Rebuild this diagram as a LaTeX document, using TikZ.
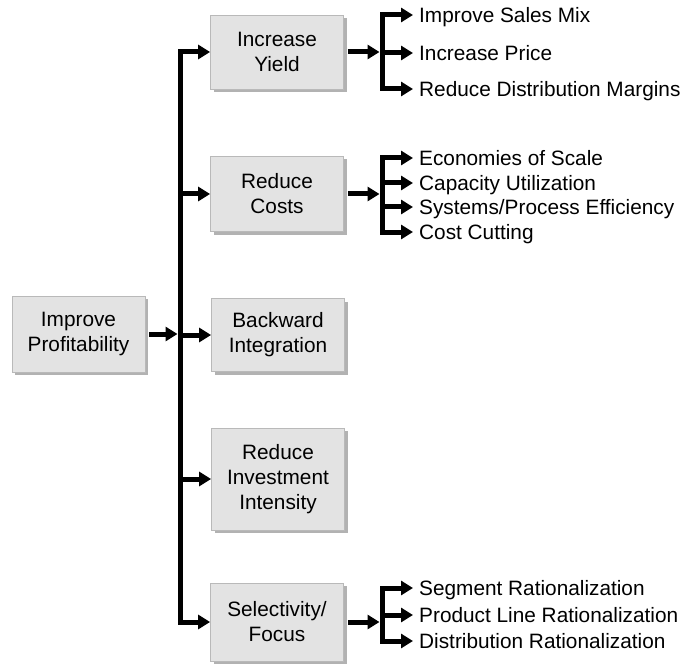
\documentclass[tikz,border=0pt]{standalone}
\usepackage{fontspec}
\setmainfont{Liberation Sans}
\usetikzlibrary{arrows.meta,shadows}

\begin{document}
\begin{tikzpicture}[x=1pt,y=-1pt,
  box/.style={draw=gray!55, fill=gray!22, line width=0.8pt,
    minimum width=133pt, align=center, inner sep=0pt,
    font=\fontsize{20.8}{25}\selectfont,
    drop shadow={shadow xshift=3pt, shadow yshift=-3pt, fill=gray!60, opacity=1}},
  item/.style={anchor=west, inner sep=0pt, text height=14.8pt, text depth=0pt,
    font=\fontsize{20.8}{25}\selectfont},
  arr/.style={line width=5pt, -{Triangle[length=12pt,width=14pt]}},
  bar/.style={line width=5pt, line cap=rect},
]
\useasboundingbox (0,0) rectangle (685,671);

% root and first-level boxes
\node[box, minimum height=76pt] (ip) at (78.5,334) {Improve\\Profitability};
\node[box, minimum height=74pt] (iy) at (277,52) {Increase\\Yield};
\node[box, minimum height=75pt] (rc) at (277,194) {Reduce\\Costs};
\node[box, minimum height=73pt] (bi) at (278,335) {Backward\\Integration};
\node[box, minimum height=102pt] (ri) at (278,479) {Reduce\\Investment\\Intensity};
\node[box, minimum height=78pt] (sf) at (277,622) {Selectivity/\\Focus};

% trunk
\coordinate (t) at (180,334);
\draw[bar] (t |- iy) -- (t |- sf);
\draw[arr, shorten <=4pt, shorten >=2.5pt] (ip) -- (t);
\foreach \n in {iy,rc,bi,ri,sf}
  \draw[arr] (t |- \n) -- (\n.west);

% second-level items
\node[item] (y1) at (419,15) {Improve Sales Mix};
\node[item] (y2) at (419,53) {Increase Price};
\node[item] (y3) at (419,89) {Reduce Distribution Margins};

\node[item] (c1) at (419,158) {Economies of Scale};
\node[item] (c2) at (419,183) {Capacity Utilization};
\node[item] (c3) at (419,207) {Systems/Process Efficiency};
\node[item] (c4) at (419,232) {Cost Cutting};

\node[item] (s1) at (419,588) {Segment Rationalization};
\node[item] (s2) at (419,615) {Product Line Rationalization};
\node[item] (s3) at (419,641) {Distribution Rationalization};

% brackets
\coordinate (ya) at (382,52);
\coordinate (ca) at (382,194);
\coordinate (sa) at (382,622);

\draw[arr, shorten <=4pt, shorten >=2.5pt] (iy) -- (ya);
\draw[bar] (ya |- y1) -- (ya |- y3);
\foreach \n in {y1,y2,y3}
  \draw[arr, shorten >=6pt] (ya |- \n) -- (\n.west);

\draw[arr, shorten <=4pt, shorten >=2.5pt] (rc) -- (ca);
\draw[bar] (ca |- c1) -- (ca |- c4);
\foreach \n in {c1,c2,c3,c4}
  \draw[arr, shorten >=6pt] (ca |- \n) -- (\n.west);

\draw[arr, shorten <=4pt, shorten >=2.5pt] (sf) -- (sa);
\draw[bar] (sa |- s1) -- (sa |- s3);
\foreach \n in {s1,s2,s3}
  \draw[arr, shorten >=6pt] (sa |- \n) -- (\n.west);
\end{tikzpicture}
\end{document}
